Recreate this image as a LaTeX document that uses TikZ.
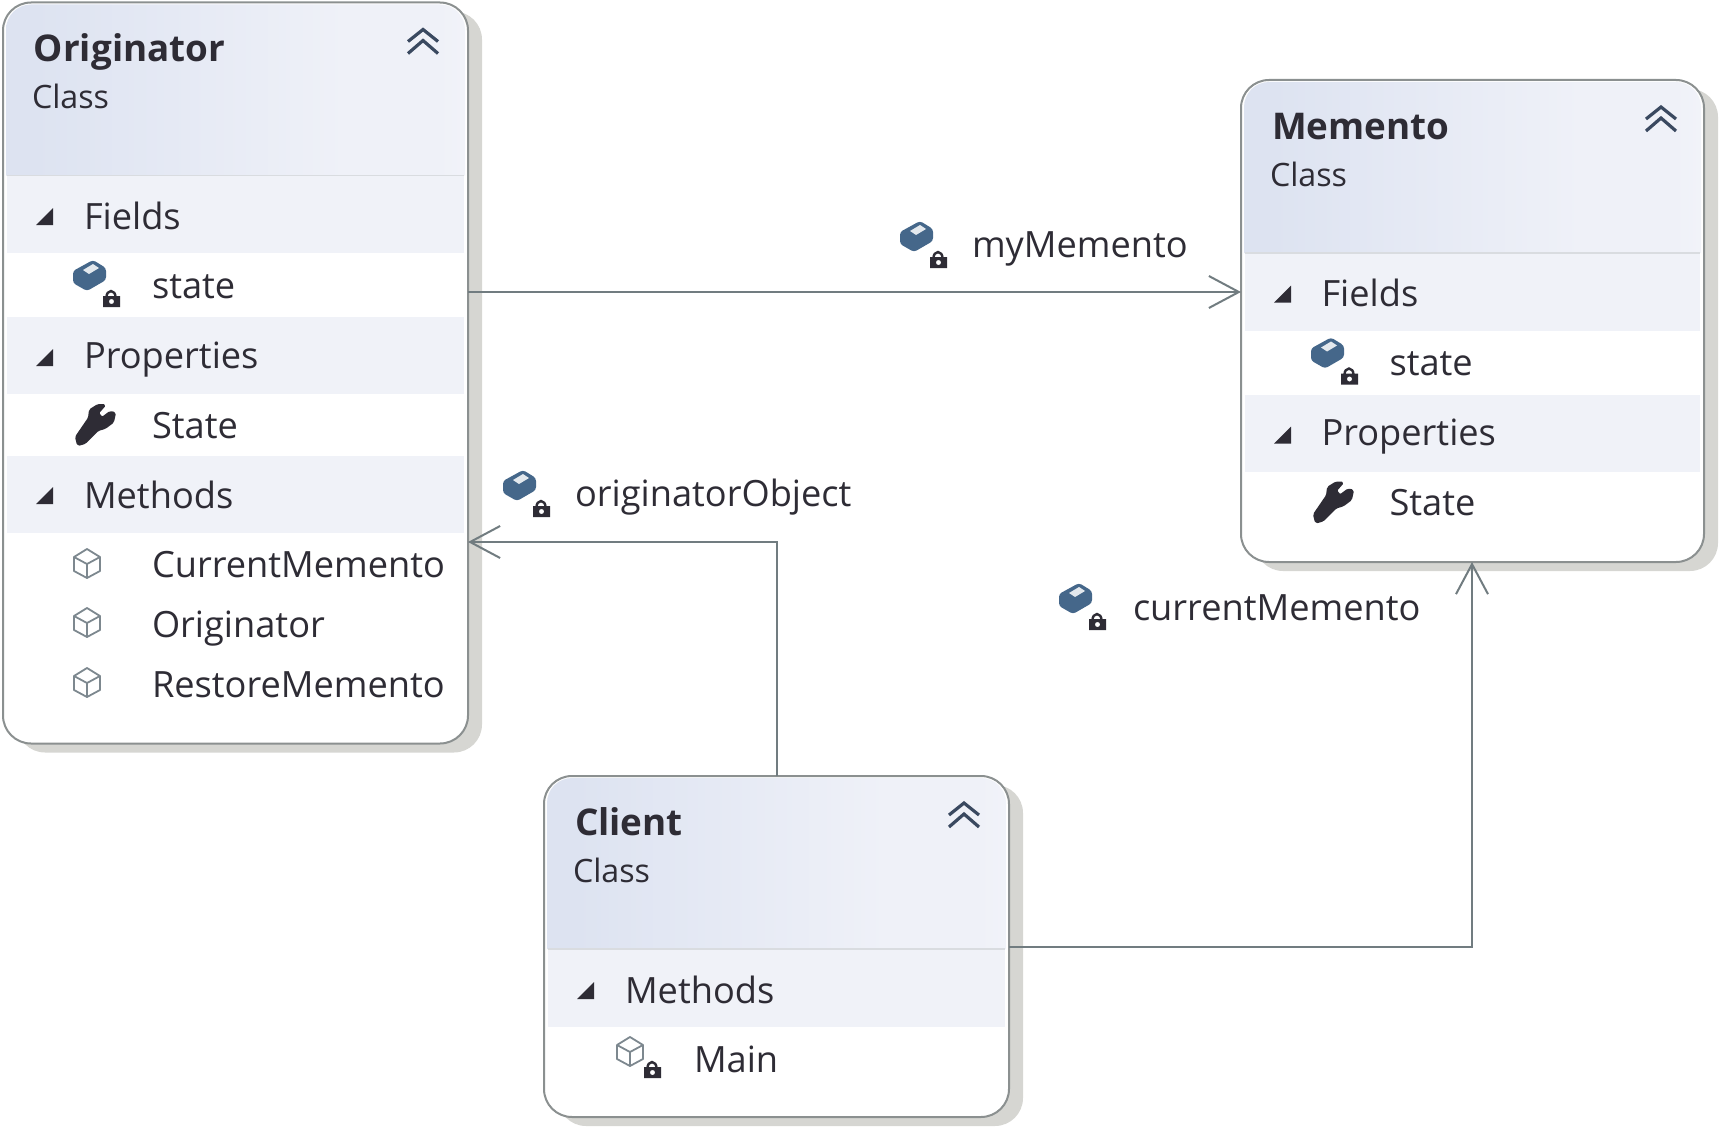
\documentclass[tikz,border=0pt]{standalone}
\usepackage{fontspec}
\setmainfont{Open Sans}
\usetikzlibrary{arrows.meta,calc}
\definecolor{ink}{HTML}{2E2C35}
\definecolor{edgegrey}{HTML}{8B9090}
\definecolor{shadowgrey}{HTML}{D6D6D2}
\definecolor{band}{HTML}{F0F2F8}
\definecolor{sep}{HTML}{D9DCE0}
\definecolor{linkgrey}{HTML}{717C80}
\definecolor{fieldblue}{HTML}{45678A}
\definecolor{hdrA}{HTML}{DDE3F1}
\definecolor{hdrB}{HTML}{EFF1F8}
\definecolor{hdrC}{HTML}{E8EBF5}
\pgfdeclarehorizontalshading{hdr}{100bp}{color(0bp)=(hdrC);color(8bp)=(hdrA);color(28bp)=(hdrA);color(62bp)=(hdrB);color(72bp)=(hdrB);color(94bp)=(white);color(100bp)=(white)}
\tikzset{
  x=1pt,y=-1pt,
  cbox/.style={draw=edgegrey,line width=2pt,fill=white,rounded corners=28pt,inner sep=0pt,outer sep=0pt},
  txt/.style={anchor=base west,inner sep=0pt,outer sep=0pt,text=ink,font=\fontsize{36.2}{40}\selectfont},
  ttl/.style={txt,font=\fontsize{36.8}{40}\selectfont\bfseries},
  cls/.style={txt,font=\fontsize{32.2}{36}\selectfont},
  link/.style={draw=linkgrey,line width=2pt,-{Straight Barb[length=30pt,width=32pt,line width=2pt]}},
}
\newcommand{\triicon}[2]{\fill[ink,shift={(#1,#2)}] (53,208)--(53,225)--(36,225)--cycle;}
\newcommand{\lockicon}[2]{\begin{scope}[shift={(#1,#2)}]
  \draw[ink,line width=2.4pt] (3.5,9) arc[start angle=180,end angle=360,x radius=4.5,y radius=6];
  \fill[ink,even odd rule] (0,8) rectangle (17,19) (8.5,13.5) circle (2.6);
\end{scope}}
\newcommand{\fieldicon}[2]{\begin{scope}[shift={(#1,#2)}]
  \fill[fieldblue,rounded corners=3pt] (0,10)--(20,-1)--(33,7)--(33,19)--(14,30)--(0,22)--cycle;
  \fill[white!85!fieldblue] (10,9)--(20,3)--(26,7)--(16,13)--cycle;
\end{scope}\lockicon{#1+30}{#2+27}}
\newcommand{\cubeicon}[2]{\begin{scope}[shift={(#1,#2)}]
  \draw[edgegrey!80!fieldblue,line width=1.8pt,line join=round]
    (0,8)--(13,0)--(26,8)--(26,22)--(13,29)--(0,22)--cycle
    (0,8)--(13,15)--(26,8) (13,15)--(13,29);
\end{scope}}
\newcommand{\wrenchicon}[2]{\begin{scope}[shift={(#1,#2)}]
  \fill[ink,draw=ink,line width=2pt,line join=round,rounded corners=1.5pt] (1,33)--(14,14)--(15,6)--(23,1)--(30,1)--(23,9)--(27,14)--(35,8)--(40,9)--(38,18)--(30,24)--(23,26)--(10,39)--(3,41)--cycle;
\end{scope}}
\newcommand{\chevicon}[2]{\begin{scope}[shift={(#1,#2)}]
  \draw[fieldblue!50!ink,line width=3.2pt] (0,14)--(15,2)--(30,14) (0,26)--(15,13)--(30,26);
\end{scope}}
\newcommand{\classbox}[7]{% name,x,y,w,h,headerheight,title
  \fill[shadowgrey,rounded corners=28pt] (#2+14,#3+9) rectangle ++(#4,#5);
  \node[cbox,minimum width=#4pt,minimum height=#5pt] (#1) at (#2+#4/2,#3+#5/2) {};
  \shade[shading=hdr,rounded corners=25pt] (#2+3,#3+#6) -- (#2+3,#3+2) -- (#2+#4-3,#3+2) [sharp corners]-- (#2+#4-3,#3+#6) -- cycle;
  \fill[sep] (#2+4,#3+#6-1) rectangle ++(#4-8,2.5);
  \node[ttl] (#1title) at (#2+31,#3+59.5) {#7};
  \node[cls] (#1class) at (#2+29,#3+106.5) {Class};
  \chevicon{#2+405}{#3+25}
}
\newcommand{\bandrow}[3]{\fill[band] (#1+4,#2) rectangle ++(#3,77);}
\begin{document}
\begin{tikzpicture}
\useasboundingbox (0,0) rectangle (1725,1132);
% Originator
\classbox{orig}{3}{2.5}{465}{741}{173}{Originator}
\bandrow{3}{176}{457}\bandrow{3}{317}{457}\bandrow{3}{456}{457}
\triicon{0}{0}\triicon{0}{141}\triicon{0}{279}
\node[txt] (of) at (84,229) {Fields};
\fieldicon{73}{261}
\node[txt] (os) at (152,298) {state};
\node[txt] (op) at (84,368) {Properties};
\wrenchicon{75}{404}
\node[txt] (oS) at (152,438) {State};
\node[txt] (om) at (84,508) {Methods};
\cubeicon{74}{549}\node[txt] (ocm) at (152,577) {CurrentMemento};
\cubeicon{74}{608}\node[txt] (oo) at (152,637) {Originator};
\cubeicon{74}{668}\node[txt] (orm) at (152,697) {RestoreMemento};
% Memento
\classbox{mem}{1241}{80}{463}{482}{173}{Memento}
\bandrow{1241}{253.5}{455}\bandrow{1241}{394.5}{455}
\triicon{1238}{77.5}\triicon{1238}{218.5}
\node[txt] (mf) at (1321.5,306.5) {Fields};
\fieldicon{1311}{338.5}
\node[txt] (ms) at (1389.5,375.5) {state};
\node[txt] (mp) at (1321.5,445.5) {Properties};
\wrenchicon{1313}{481.5}
\node[txt] (mS) at (1389.5,515.5) {State};
% Client
\classbox{cli}{544}{776}{465}{341}{173}{Client}
\bandrow{544}{950}{457}
\triicon{541}{774}
\node[txt] (cm) at (625,1003) {Methods};
\cubeicon{617}{1037}\lockicon{644}{1059}
\node[txt] (cM) at (694,1072) {Main};
% connectors
\coordinate (a1) at (0,292);
\coordinate (a2) at (776.5,542);
\coordinate (a3) at (1472,947);
\draw[link] (orig.east |- a1) -- (mem.west |- a1);
\draw[link] (cli.north -| a2) -- (a2) -- (orig.east |- a2);
\draw[link] (cli.east |- a3) -- (a3) -- (mem.south -| a3);
% link labels
\fieldicon{900}{222}\node[txt] (l1) at (972,257) {myMemento};
\fieldicon{503}{471}\node[txt] (l2) at (575,506.5) {originatorObject};
\fieldicon{1059}{584}\node[txt] (l3) at (1133,620) {currentMemento};
\end{tikzpicture}
\end{document}
